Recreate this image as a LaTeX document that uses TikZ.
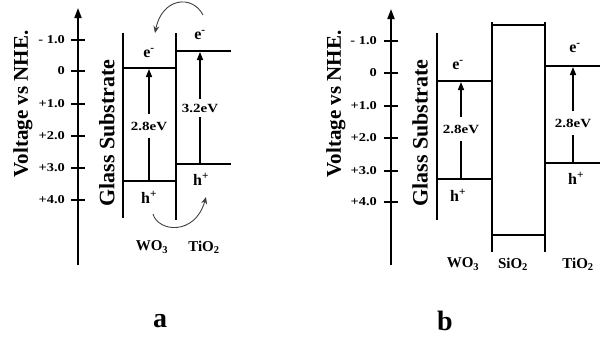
\documentclass[tikz,border=0pt]{standalone}
\usepackage{fontspec}
\setmainfont{Liberation Serif}
\usetikzlibrary{arrows.meta}
\newcommand{\wide}[1]{\scalebox{1.2}[1]{#1}}
\begin{document}
\begin{tikzpicture}[x=1pt,y=-1pt,
  band/.style={line width=1.7pt},
  axisline/.style={line width=1.8pt,-{Triangle[length=10pt,width=7pt]}},
  gaparrow/.style={line width=1.5pt,-{Triangle[length=8pt,width=6pt]}},
  gapline/.style={line width=1.5pt},
  tickline/.style={line width=1.7pt},
  ticklab/.style={font=\bfseries\fontsize{12}{12}\selectfont,anchor=east,inner sep=0pt},
  evlab/.style={font=\bfseries\fontsize{12.5}{12.5}\selectfont,inner xsep=0pt,inner ysep=8pt},
  carrier/.style={font=\bfseries\fontsize{16}{16}\selectfont,inner sep=0pt},
  matlab/.style={font=\bfseries\fontsize{15}{15}\selectfont,inner sep=0pt},
  vlab/.style={font=\bfseries\fontsize{21}{21}\selectfont,rotate=90,inner sep=0pt},
  glab/.style={font=\bfseries\fontsize{22}{22}\selectfont,rotate=90,inner sep=0pt},
  panlab/.style={font=\bfseries\fontsize{28}{28}\selectfont,inner sep=0pt},
  curv/.style={line width=0.9pt,black!75,-{Stealth[length=7pt,width=6pt]}}
]
\useasboundingbox (0,0) rectangle (605,341);

% ================= Panel a =================
\coordinate (axAbot) at (78,265);
\coordinate (axAtop) at (78,8);
\draw[axisline] (axAbot) -- (axAtop);
\foreach \yy/\tt [count=\i] in {40/{- 1.0},71/0,104/{+1.0},136/{+2.0},168/{+3.0},200/{+4.0}}{
  \draw[tickline] (71,\yy) -- (85,\yy);
  \node[ticklab] (tA\i) at (65,\yy) {\wide{\tt}};
}
\node[vlab] (voltA) at (23,104) {Voltage vs NHE.};
\node[glab] (glassA) at (107,133) {Glass Substrate};

\draw[band] (123,33) -- (123,218);
\draw[band] (176,33) -- (176,220);
\draw[band] (123,68) -- (176,68);
\draw[band] (123,181) -- (176,181);
\draw[band] (176,51) -- (231,51);
\draw[band] (176,164) -- (231,164);

\coordinate (vbA1) at (149,181);
\coordinate (cbA1) at (149,69);
\node[evlab] (evA1) at (149,126) {\wide{2.8eV}};
\draw[gapline] (vbA1) -- (evA1.south);
\draw[gaparrow] (evA1.north) -- (cbA1);

\coordinate (vbA2) at (200,164);
\coordinate (cbA2) at (200,52);
\node[evlab,inner ysep=5pt] (evA2) at (200,108) {\wide{3.2eV}};
\draw[gapline] (vbA2) -- (evA2.south);
\draw[gaparrow] (evA2.north) -- (cbA2);

\node[carrier] (eA1) at (149,53) {e\textsuperscript{-}};
\node[carrier] (eA2) at (200,35) {e\textsuperscript{-}};
\node[carrier] (hA1) at (149,197) {h\textsuperscript{+}};
\node[carrier] (hA2) at (201,179) {h\textsuperscript{+}};

\coordinate (cAs) at (203,15);
\coordinate (cAe) at (155,33);
\draw[curv] (cAs) .. controls (192,-6) and (162,-2) .. (cAe);
\coordinate (hAs) at (153,214);
\coordinate (hAe) at (206,197);
\draw[curv] (hAs) .. controls (158,232) and (195,236) .. (hAe);

\node[matlab] (wA) at (152,247) {WO\textsubscript{3}};
\node[matlab] (tiA) at (204,247) {TiO\textsubscript{2}};
\node[panlab] (pa) at (160,321) {a};

% ================= Panel b =================
\coordinate (axBbot) at (391,265);
\coordinate (axBtop) at (391,9);
\draw[axisline] (axBbot) -- (axBtop);
\foreach \yy/\tt [count=\i] in {41/{- 1.0},73/0,106/{+1.0},138/{+2.0},171/{+3.0},202/{+4.0}}{
  \draw[tickline] (384,\yy) -- (398,\yy);
  \node[ticklab] (tB\i) at (377,\yy) {\wide{\tt}};
}
\node[vlab] (voltB) at (336,104) {Voltage vs NHE.};
\node[glab] (glassB) at (420,133) {Glass Substrate};

\draw[band] (437,33) -- (437,220);
\draw[band] (492,22) -- (492,252);
\draw[band] (545,22) -- (545,252);
\draw[band] (492,25) -- (545,25);
\draw[band] (492,235) -- (545,235);
\draw[band] (437,81) -- (492,81);
\draw[band] (437,179) -- (492,179);
\draw[band] (545,66) -- (600,66);
\draw[band] (545,163) -- (600,163);

\coordinate (vbB1) at (461,179);
\coordinate (cbB1) at (461,82);
\node[evlab] (evB1) at (461,129) {\wide{2.8eV}};
\draw[gapline] (vbB1) -- (evB1.south);
\draw[gaparrow] (evB1.north) -- (cbB1);

\coordinate (vbB2) at (573,163);
\coordinate (cbB2) at (573,67);
\node[evlab] (evB2) at (573,123) {\wide{2.8eV}};
\draw[gapline] (vbB2) -- (evB2.south);
\draw[gaparrow] (evB2.north) -- (cbB2);

\node[carrier] (eB1) at (458,65) {e\textsuperscript{-}};
\node[carrier] (eB2) at (575,48) {e\textsuperscript{-}};
\node[carrier] (hB1) at (458,195) {h\textsuperscript{+}};
\node[carrier] (hB2) at (576,178) {h\textsuperscript{+}};

\node[matlab] (wB) at (463,264) {WO\textsubscript{3}};
\node[matlab] (sB) at (513,264) {SiO\textsubscript{2}};
\node[matlab] (tiB) at (578,264) {TiO\textsubscript{2}};
\node[panlab] (pb) at (445,321) {b};
\end{tikzpicture}
\end{document}
